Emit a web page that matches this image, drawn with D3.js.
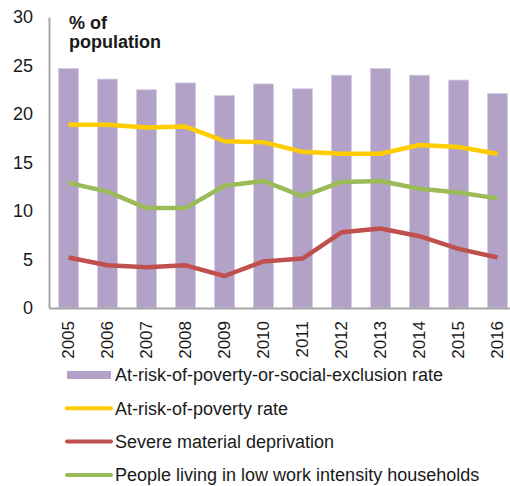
<!DOCTYPE html>
<html><head><meta charset="utf-8">
<script src="https://cdn.jsdelivr.net/npm/d3@7"></script>
<style>body{margin:0;background:#fff}svg{display:block;font-family:"Liberation Sans",Arial,sans-serif}</style>
</head><body><svg id="c" width="510" height="486"></svg>
<script>
const years = ["2005","2006","2007","2008","2009","2010","2011","2012","2013","2014","2015","2016"];
const arope = [24.7,23.6,22.5,23.2,21.9,23.1,22.6,24.0,24.7,24.0,23.5,22.1];
const arop = [18.9,18.9,18.6,18.7,17.2,17.1,16.1,15.9,15.9,16.8,16.6,15.9];
const smd = [5.2,4.4,4.2,4.4,3.3,4.8,5.1,7.8,8.2,7.4,6.1,5.2];
const lwi = [12.9,12.0,10.3,10.3,12.6,13.1,11.5,13.0,13.1,12.3,11.9,11.3];
const yTicks = [0,5,10,15,20,25,30];
const seriesNames = ["At-risk-of-poverty-or-social-exclusion rate","At-risk-of-poverty rate","Severe material deprivation","People living in low work intensity households"];
const colors = ["#b3a2c7","#ffcc00","#c0504d","#9bbb59"];

const svg = d3.select("#c");
const x = d3.scaleBand().domain(years).range([49,517]).paddingInner(0.49).paddingOuter(0.245);
const y = d3.scaleLinear().domain([0,30]).range([308,17]);

// bars
svg.append("g").selectAll("rect").data(arope).join("rect")
  .attr("x",(d,i)=>x(years[i])).attr("width",x.bandwidth())
  .attr("y",d=>y(d)).attr("height",d=>y(0)-y(d))
  .attr("fill",colors[0]).attr("stroke","#d5cbe2").attr("stroke-width",0.8);

// y axis
const ya = svg.append("g").attr("transform","translate(49,0)")
  .call(d3.axisLeft(y).tickValues(yTicks).tickSize(0).tickPadding(16));
ya.select(".domain").attr("stroke","#a6a6a6").attr("stroke-width",2);
ya.selectAll("text").attr("font-size",18).attr("fill","#1a1a1a").attr("font-family","Liberation Sans, Arial, sans-serif");

// x axis
const xa = svg.append("g").attr("transform","translate(0,308)")
  .call(d3.axisBottom(x).tickSize(0).tickPadding(0));
xa.select(".domain").attr("stroke","#a6a6a6").attr("stroke-width",2);
xa.selectAll("text").attr("font-size",17).attr("fill","#1a1a1a")
  .attr("font-family","Liberation Sans, Arial, sans-serif")
  .attr("text-anchor","end").attr("dy","0.35em")
  .attr("transform","translate(0,13) rotate(-90)").attr("y",0).attr("x",0);

// lines
const line = d3.line().x((d,i)=>x(years[i])+x.bandwidth()/2).y(d=>y(d));
[arop,smd,lwi].forEach((s,k)=>{
  svg.append("path").datum(s).attr("d",line).attr("fill","none")
    .attr("stroke",colors[k+1]).attr("stroke-width",4.5).attr("stroke-linejoin","round");
});

// unit title
const t = svg.append("text").attr("x",69).attr("font-size",18).attr("font-weight","bold").attr("fill","#1a1a1a");
t.append("tspan").attr("x",69).attr("y",29).text("% of");
t.append("tspan").attr("x",69).attr("y",48).text("population");

// legend
const lg = svg.append("g");
seriesNames.forEach((n,i)=>{
  const cy = 375 + i*33.3;
  if(i===0){
    lg.append("rect").attr("x",67).attr("y",cy-4).attr("width",44).attr("height",8).attr("fill",colors[0]);
  } else {
    lg.append("line").attr("x1",67).attr("x2",111).attr("y1",cy).attr("y2",cy)
      .attr("stroke",colors[i]).attr("stroke-width",4).attr("stroke-linecap","round");
  }
  lg.append("text").attr("x",115).attr("y",cy).attr("dy","0.35em").attr("font-size",18).attr("fill","#1a1a1a").text(n);
});
</script></body></html>
